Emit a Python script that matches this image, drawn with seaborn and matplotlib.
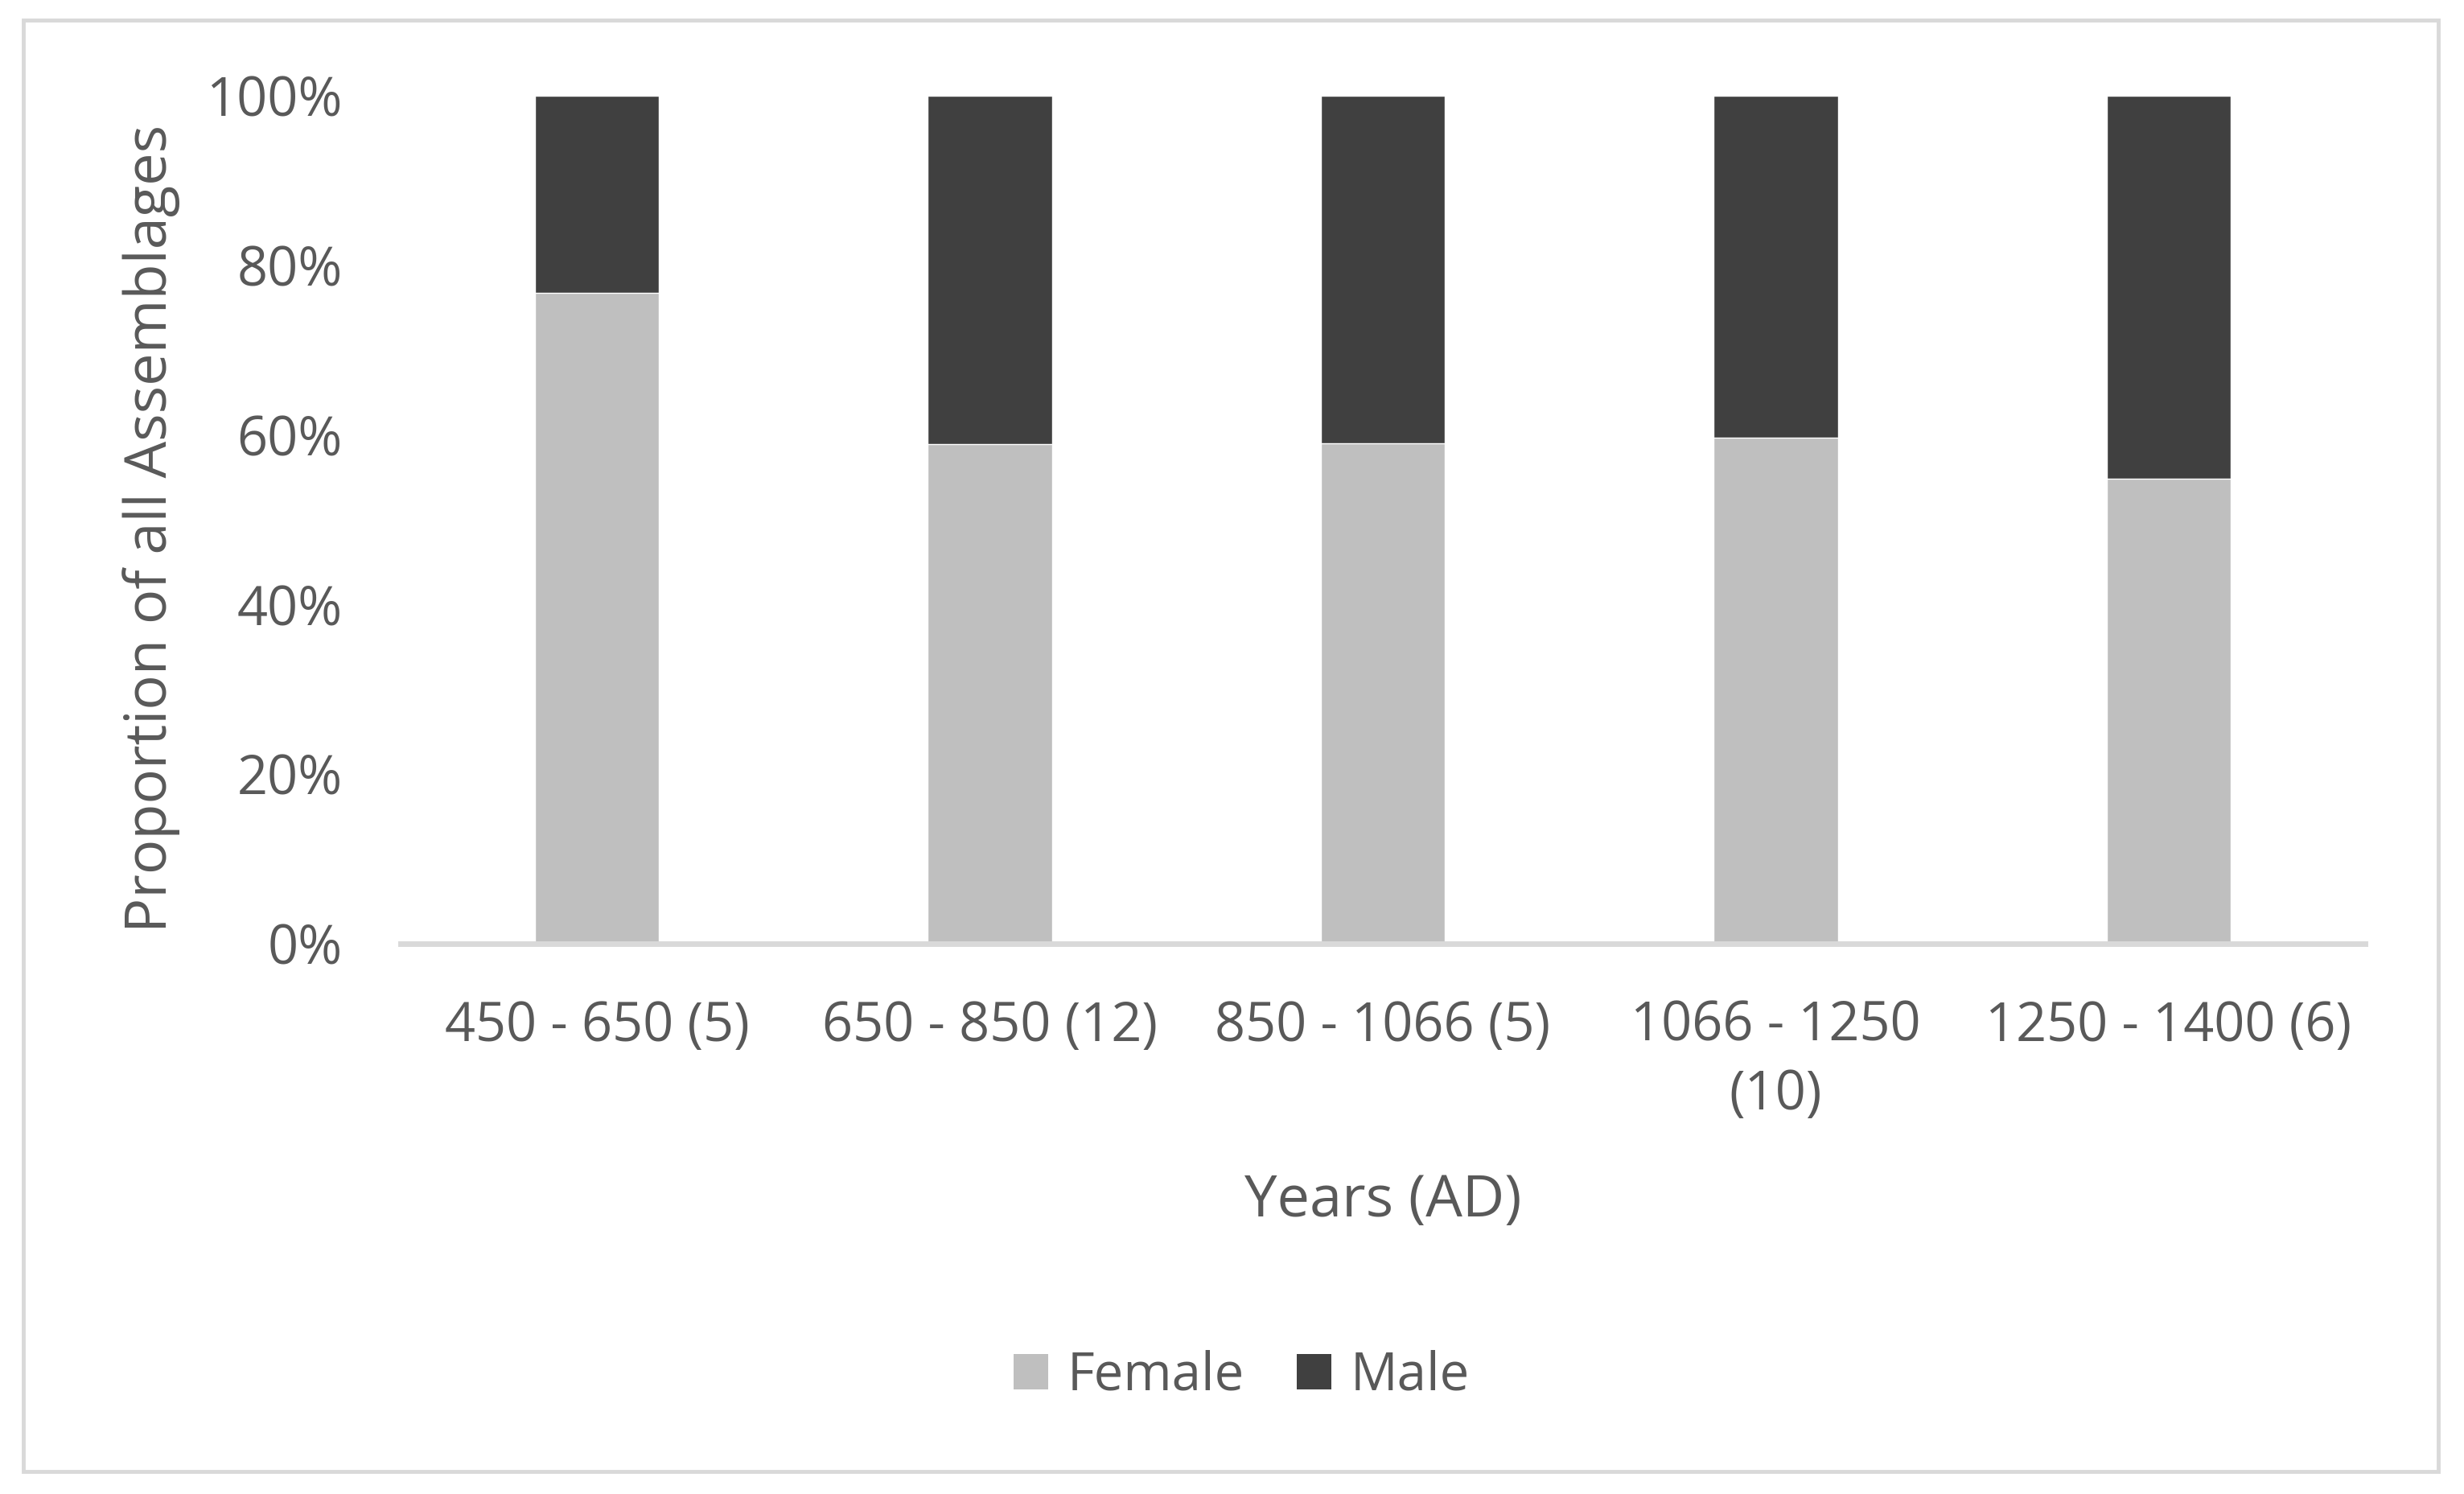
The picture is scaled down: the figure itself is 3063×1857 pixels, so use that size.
import matplotlib
matplotlib.use("Agg")
import matplotlib.pyplot as plt
from matplotlib.patches import Patch, Rectangle
from matplotlib.ticker import PercentFormatter
import seaborn as sns
import pandas as pd

categories = ["450 - 650 (5)", "650 - 850 (12)", "850 - 1066 (5)", "1066 - 1250\n(10)", "1250 - 1400 (6)"]
female = [0.768, 0.589, 0.590, 0.597, 0.548]
male = [1 - f for f in female]
series_names = ["Female", "Male"]
colors = {"Female": "#bfbfbf", "Male": "#404040"}
text_color = "#595959"

sns.set_theme(style="white")
plt.rcParams['font.family'] = ['Open Sans', 'DejaVu Sans']

df = pd.DataFrame({"period": categories, "Female": female, "Male": male})
df["total"] = df["Female"] + df["Male"]

fig = plt.figure(figsize=(30.63, 18.57), dpi=100)
ax = fig.add_axes([498/3063, 1 - 1173/1857, (2940-498)/3063, (1173-119)/1857])

sns.barplot(data=df, x="period", y="total", color=colors["Male"], width=0.316,
            saturation=1, ax=ax, order=categories)
sns.barplot(data=df, x="period", y="Female", color=colors["Female"], width=0.316,
            saturation=1, ax=ax, order=categories)

ax.set_ylim(0, 1)
ax.set_xlim(-0.5, 4.5)
ax.yaxis.set_major_formatter(PercentFormatter(1.0, decimals=0))
ax.set_yticks([0, 0.2, 0.4, 0.6, 0.8, 1.0])
for s in ["top", "right", "left"]:
    ax.spines[s].set_visible(False)
ax.spines["bottom"].set_color("#d9d9d9")
ax.spines["bottom"].set_linewidth(5)
ax.tick_params(axis="both", length=0, labelsize=48, colors=text_color)
ax.tick_params(axis="y", pad=52)
ax.tick_params(axis="x", pad=50)
for lab in ax.get_xticklabels():
    lab.set_linespacing(1.34)

ax.set_xlabel("Years (AD)", fontsize=52, color=text_color, labelpad=45)
ax.set_ylabel("Proportion of all Assemblages", fontsize=52, color=text_color)
ax.yaxis.set_label_coords(-0.112, 0.49)

handles = [Patch(facecolor=colors[n], edgecolor="none", label=n) for n in series_names]
fig.legend(handles=handles, loc="center", bbox_to_anchor=(0.504, 1 - 1711/1857), ncol=2,
           frameon=False, fontsize=47, labelcolor=text_color, handlelength=0.66,
           handleheight=0.66, handletextpad=0.36, columnspacing=1.0)

fig.add_artist(Rectangle((29/3063, 1 - 1829/1857), (3031-29)/3063, (1829-25)/1857,
                         transform=fig.transFigure, fill=False, edgecolor="#d9d9d9",
                         linewidth=3.5))

fig.savefig("out.png", dpi=100, facecolor="white")
